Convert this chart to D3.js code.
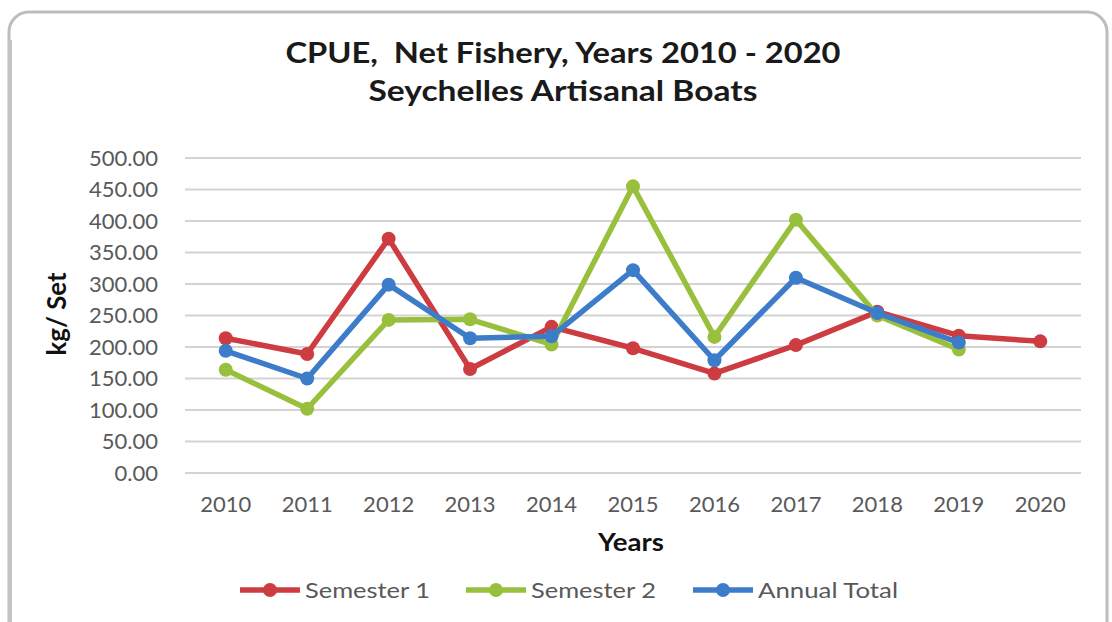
<!DOCTYPE html>
<html><head><meta charset="utf-8">
<script src="https://cdn.jsdelivr.net/npm/d3@7/dist/d3.min.js"></script>
<style>body{margin:0;background:#fff}svg{display:block}</style>
</head><body>
<svg id="c" width="1112" height="622"></svg>
<script>
const years = ["2010","2011","2012","2013","2014","2015","2016","2017","2018","2019","2020"];
const semester1 = [214, 189, 372, 165, 232, 198, 158, 203, 256, 218, 209];
const semester2 = [164, 102, 243, 244, 204, 455, 216, 402, 250, 196, null];
const annualTotal = [194, 150, 299, 214, 217, 322, 179, 310, 254, 207, null];
const yTicks = [0,50,100,150,200,250,300,350,400,450,500];
const seriesNames = ["Semester 1","Semester 2","Annual Total"];
const colors = ["#cd3c40","#99c03c","#3c7cc8"];

const svg = d3.select("#c");
const font = "Lato, 'Open Sans', sans-serif";

// frame
svg.append("rect").attr("x",9).attr("y",12).attr("width",1098).attr("height",640)
  .attr("rx",20).attr("fill","#fff").attr("stroke","#bdbdbd").attr("stroke-width",3);
svg.append("line").attr("x1",10).attr("x2",10).attr("y1",40).attr("y2",622)
  .attr("stroke","#c4c4c4").attr("stroke-width",4);

const x = d3.scaleBand().domain(years).range([185,1081]);
const y = d3.scaleLinear().domain([0,500]).range([473,158]);

// grid
svg.append("g").selectAll("line").data(yTicks).join("line")
  .attr("x1",185).attr("x2",1081).attr("y1",d=>y(d)).attr("y2",d=>y(d))
  .attr("stroke","#d3d3d3").attr("stroke-width",2);

// y axis labels
const yAxis = d3.axisLeft(y).tickValues(yTicks).tickFormat(d3.format(".2f")).tickSize(0).tickPadding(0);
const ga = svg.append("g").attr("transform","translate(158,0)").call(yAxis);
ga.select(".domain").remove();
ga.selectAll("text").attr("font-family",font).attr("font-size",22).attr("fill","#595959");

// x axis labels
const xAxis = d3.axisBottom(x).tickSize(0).tickPadding(23);
const gx = svg.append("g").attr("transform","translate(0,473)").call(xAxis);
gx.select(".domain").remove();
gx.selectAll("text").attr("font-family",font).attr("font-size",22).attr("fill","#595959");

// titles
svg.append("text").attr("x",563).attr("y",63).attr("text-anchor","middle")
  .attr("font-family",font).attr("font-weight","bold").attr("font-size",29).attr("fill","#1a1a1a")
  .attr("textLength",555).attr("lengthAdjust","spacingAndGlyphs")
  .attr("xml:space","preserve").text("CPUE,  Net Fishery, Years 2010 - 2020");
svg.append("text").attr("x",563).attr("y",101).attr("text-anchor","middle")
  .attr("font-family",font).attr("font-weight","bold").attr("font-size",29).attr("fill","#1a1a1a")
  .attr("textLength",389).attr("lengthAdjust","spacingAndGlyphs")
  .text("Seychelles Artisanal Boats");
svg.append("text").attr("transform","translate(66,314) rotate(-90)").attr("text-anchor","middle")
  .attr("font-family",font).attr("font-weight","bold").attr("font-size",26).attr("fill","#111")
  .attr("textLength",83).attr("lengthAdjust","spacingAndGlyphs")
  .text("kg/ Set");
svg.append("text").attr("x",631).attr("y",551).attr("text-anchor","middle")
  .attr("font-family",font).attr("font-weight","bold").attr("font-size",25).attr("fill","#111")
  .attr("textLength",66).attr("lengthAdjust","spacingAndGlyphs")
  .text("Years");

// series
const data = [semester1, semester2, annualTotal];
const cx = d => x(d) + x.bandwidth()/2;
const line = d3.line().defined(d=>d.v!=null).x(d=>cx(d.k)).y(d=>y(d.v));
data.forEach((arr,i)=>{
  const pts = years.map((k,j)=>({k, v: arr[j]}));
  svg.append("path").datum(pts).attr("d",line).attr("fill","none")
    .attr("stroke",colors[i]).attr("stroke-width",5.5).attr("stroke-linejoin","round");
  svg.append("g").selectAll("circle").data(pts.filter(p=>p.v!=null)).join("circle")
    .attr("cx",p=>cx(p.k)).attr("cy",p=>y(p.v)).attr("r",7).attr("fill",colors[i]);
});

// legend
const legX = [240, 466, 693];
const legW = [125, 125, 140];
const lg = svg.append("g");
seriesNames.forEach((n,i)=>{
  const g = lg.append("g").attr("transform",`translate(${legX[i]},590)`);
  g.append("line").attr("x1",0).attr("x2",60).attr("stroke",colors[i]).attr("stroke-width",5.5);
  g.append("circle").attr("cx",30).attr("r",7).attr("fill",colors[i]);
  g.append("text").attr("x",65).attr("y",8).attr("font-family",font).attr("font-size",22)
    .attr("fill","#595959").attr("textLength",legW[i]).attr("lengthAdjust","spacingAndGlyphs").text(n);
});
</script>
</body></html>
